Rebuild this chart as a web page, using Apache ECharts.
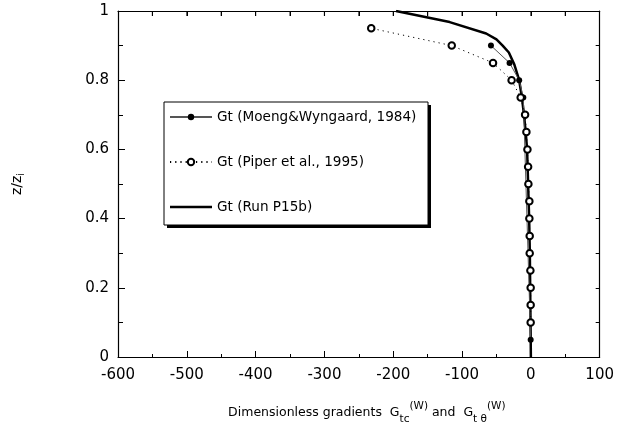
<!DOCTYPE html>
<html>
<head>
<meta charset="utf-8">
<script src="https://cdn.jsdelivr.net/npm/echarts@6/dist/echarts.min.js"></script>
<style>
  html, body { margin: 0; padding: 0; background: #fff; }
  #chart { width: 617px; height: 430px; }
</style>
</head>
<body>
<div id="chart"></div>
<script>
// Moeng & Wyngaard 1984 (filled dots)
const moengZ = [0.05, 0.75, 0.8, 0.85, 0.9];
const moengG = [-0.3, -11, -17, -31, -58];

// Piper et al. 1995 (open circles)
const piperZ = [0.1, 0.15, 0.2, 0.25, 0.3, 0.35, 0.4, 0.45, 0.5, 0.55,
                0.6, 0.65, 0.7, 0.75, 0.8, 0.85, 0.9, 0.95];
const piperG = [-0.3, -0.3, -0.3, -0.7, -1.7, -1.7, -2.2, -2.2, -3.6, -4,
                -5, -6.5, -8.4, -14.8, -28, -55, -115, -232];

// Run P15b (thick line)
const runZ = [0, 0.1, 0.2, 0.3, 0.4, 0.5, 0.6, 0.65, 0.7, 0.75, 0.8,
              0.845, 0.88, 0.9, 0.918, 0.935, 0.968, 1.0];
const runG = [0, -0.5, -1, -1.5, -2.5, -4, -5.5, -7.5, -10, -13, -17,
              -24, -32, -41, -50, -65, -118, -196];

const xTicks = { min: -600, max: 100, step: 100 };
const yTicks = { min: 0, max: 1, step: 0.2 };
// tick marks along the top frame
const topTickG = [-550, -500, -450, -400, -350, -300, -250, -200, -150, -100, -50, 0, 50];

const seriesNames = [
  'Gt (Moeng&Wyngaard, 1984)',
  'Gt (Piper et al., 1995)',
  'Gt (Run P15b)'
];

const zip = (xs, ys) => xs.map((x, i) => [x, ys[i]]);

const font = 'DejaVu Sans';
const chart = echarts.init(document.getElementById('chart'));

const frameLine = { show: true, onZero: false, lineStyle: { color: '#000', width: 1.2 } };

chart.setOption({
  animation: false,
  backgroundColor: '#fff',
  grid: { left: 118, right: 14, top: 11, bottom: 73 },
  xAxis: [
    {
      type: 'value',
      min: xTicks.min, max: xTicks.max, interval: xTicks.step,
      axisLine: frameLine,
      axisTick: { inside: true, length: 6, lineStyle: { color: '#000' } },
      minorTick: { show: true, splitNumber: 2, length: 3, lineStyle: { color: '#000' } },
      splitLine: { show: false },
      axisLabel: { color: '#000', fontFamily: font, fontSize: 15, margin: 11 },
      name: '{t|Dimensionless gradients  G}{sub|tc}{sup|(W)}{t| and  G}{sub|t θ}{sup|(W)}',
      nameLocation: 'middle',
      nameGap: 44,
      nameTextStyle: {
        padding: [0, 0, 0, 16],
        rich: {
          t: { fontFamily: font, fontSize: 12.5, color: '#000', lineHeight: 24 },
          sub: { fontFamily: font, fontSize: 10.5, color: '#000', verticalAlign: 'bottom', lineHeight: 24 },
          sup: { fontFamily: font, fontSize: 10.5, color: '#000', verticalAlign: 'top', lineHeight: 24 }
        }
      }
    },
    {
      type: 'value',
      position: 'top',
      min: xTicks.min, max: xTicks.max, interval: 50,
      axisLine: frameLine,
      axisTick: { inside: true, length: 5, lineStyle: { color: '#000' } },
      axisLabel: { show: false },
      splitLine: { show: false }
    }
  ],
  yAxis: [
    {
      type: 'value',
      min: yTicks.min, max: yTicks.max, interval: yTicks.step,
      axisLine: frameLine,
      axisTick: { inside: true, length: 7, lineStyle: { color: '#000' } },
      minorTick: { show: true, splitNumber: 2, length: 5, lineStyle: { color: '#000' } },
      splitLine: { show: false },
      axisLabel: { color: '#000', fontFamily: font, fontSize: 15, margin: 9 },
      name: '{t|z/z}{sub|i}',
      nameLocation: 'middle',
      nameGap: 92,
      nameTextStyle: {
        rich: {
          t: { fontFamily: font, fontSize: 14, color: '#000', lineHeight: 18 },
          sub: { fontFamily: font, fontSize: 10, color: '#000', verticalAlign: 'bottom', lineHeight: 18 }
        }
      }
    },
    {
      type: 'value',
      position: 'right',
      min: yTicks.min, max: yTicks.max, interval: 0.1,
      axisLine: frameLine,
      axisTick: { inside: true, length: 4, lineStyle: { color: '#000' } },
      axisLabel: { show: false },
      splitLine: { show: false }
    }
  ],
  graphic: [
    { type: 'rect', z: 3, shape: { x: 167, y: 105, width: 264, height: 123 }, style: { fill: '#000' } },
    { type: 'rect', z: 3, shape: { x: 164, y: 102, width: 264, height: 123 },
      style: { fill: '#fff', stroke: '#000', lineWidth: 1 } }
  ],
  legend: {
    data: [
      seriesNames[0],
      seriesNames[1],
      { name: seriesNames[2], icon: 'path://M0,0H42V2.5H0Z' }
    ],
    orient: 'vertical',
    left: 164,
    top: 105,
    itemWidth: 42,
    itemHeight: 8,
    itemGap: 31,
    z: 5,
    textStyle: { color: '#000', fontFamily: font, fontSize: 13.6 }
  },
  series: [
    {
      name: seriesNames[2],
      type: 'line',
      data: zip(runG, runZ),
      showSymbol: false,
      symbol: 'none',
      itemStyle: { color: '#000' },
      lineStyle: { color: '#000', width: 2.5 },
      z: 2
    },
    {
      name: seriesNames[0],
      type: 'line',
      data: zip(moengG, moengZ),
      symbol: 'circle',
      symbolSize: 6,
      itemStyle: { color: '#000' },
      lineStyle: { color: '#555', width: 1 },
      z: 3
    },
    {
      name: seriesNames[1],
      type: 'line',
      data: zip(piperG, piperZ),
      symbol: 'emptyCircle',
      symbolSize: 6.5,
      itemStyle: { color: '#000', borderColor: '#000', borderWidth: 0.9 },
      lineStyle: { color: '#000', width: 1, type: [1.2, 4] },
      z: 4
    },
    {
      name: 'topTicks',
      type: 'scatter',
      data: topTickG.map(g => [g, yTicks.max]),
      symbol: 'rect',
      symbolSize: [1.2, 5],
      symbolOffset: [0, 2.5],
      itemStyle: { color: '#000' },
      silent: true,
      z: 1
    }
  ]
});
</script>
</body>
</html>
